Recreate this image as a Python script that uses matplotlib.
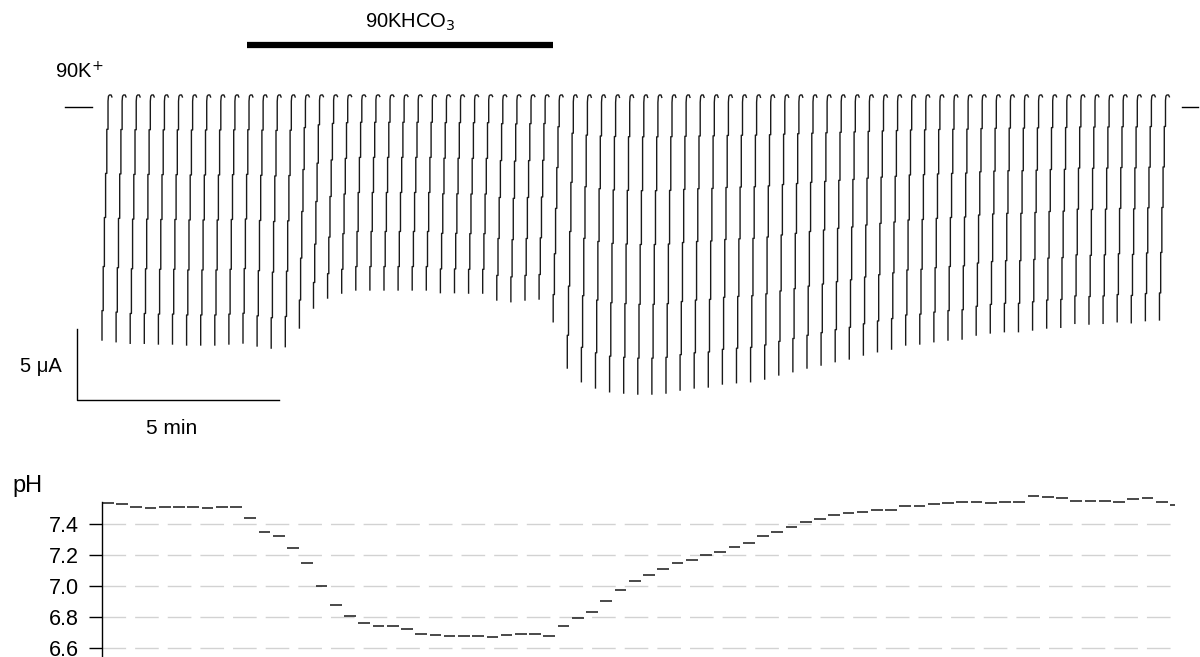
import matplotlib
matplotlib.use('Agg')
import matplotlib.pyplot as plt
import numpy as np

plt.rcParams['font.family'] = ['Liberation Sans', 'DejaVu Sans']

# peak inward current of each sweep (uA), one sweep every ~21 s
i_peak = [-16.50, -16.62, -16.73, -16.73, -16.78, -16.78, -16.85, -16.85,
          -16.85, -16.78, -16.71, -16.92, -17.07, -16.97, -15.65, -14.24,
          -13.53, -13.18, -12.96, -12.96, -12.96, -12.96, -12.96, -12.96,
          -13.15, -13.15, -13.18, -13.18, -13.67, -13.79, -13.67, -13.60,
          -15.21, -18.48, -19.45, -19.89, -20.16, -20.25, -20.32, -20.32,
          -20.25, -20.04, -19.89, -19.82, -19.61, -19.52, -19.45, -19.26,
          -18.97, -18.74, -18.48, -18.27, -18.03, -17.84, -17.56, -17.33,
          -17.14, -16.85, -16.78, -16.62, -16.50, -16.43, -16.15, -16.00,
          -15.91, -15.91, -15.79, -15.65, -15.60, -15.32, -15.37, -15.32,
          -15.21, -15.28, -15.13, -15.08]
i_top = 0.83
sweep_dt = 0.349  # min

# shape of one sweep: time offset (min) vs fraction of the excursion
ramp_dt = [0, 0, 0.030, 0.030, 0.059, 0.059, 0.089, 0.089, 0.119, 0.119,
           0.149, 0.149, 0.160, 0.185, 0.225, 0.245]
ramp_frac = [0, 0.12, 0.12, 0.30, 0.30, 0.50, 0.50, 0.68, 0.68, 0.86,
             0.86, 0.975, 0.995, 1.0, 1.0, 0.992]

# intracellular pH, one reading per ~21 s
ph = [7.534, 7.53, 7.512, 7.50, 7.51, 7.51, 7.51, 7.50, 7.51, 7.51,
      7.437, 7.35, 7.322, 7.247, 7.146, 7.00, 6.876, 6.805, 6.76, 6.74,
      6.74, 6.72, 6.69, 6.68, 6.675, 6.675, 6.675, 6.67, 6.68, 6.69,
      6.69, 6.675, 6.74, 6.79, 6.83, 6.90, 6.97, 7.03, 7.07, 7.11,
      7.15, 7.165, 7.20, 7.22, 7.25, 7.28, 7.32, 7.35, 7.38, 7.41,
      7.43, 7.46, 7.47, 7.48, 7.49, 7.49, 7.516, 7.516, 7.53, 7.534,
      7.545, 7.54, 7.535, 7.545, 7.54, 7.583, 7.577, 7.568, 7.55, 7.546,
      7.55, 7.545, 7.562, 7.565, 7.54, 7.525]
ph_dt = 0.3525
ph_ticks = [6.6, 6.8, 7.0, 7.2, 7.4]

app_start, app_end = 3.59, 11.16  # 90KHCO3 application (min)

fig = plt.figure(figsize=(12, 6.57), dpi=100)

# current trace
ax = fig.add_axes([0, 1 - 440 / 657, 1, 440 / 657])
ax.set_xlim(-102 / 40.4, 1098 / 40.4)
ax.set_ylim(-23.57, 7.546)
ax.axis('off')

ramp_dt = np.array(ramp_dt)
ramp_frac = np.array(ramp_frac)
for k, ip in enumerate(i_peak):
    t0 = k * sweep_dt
    ax.plot(t0 + ramp_dt, ip + ramp_frac * (i_top - ip),
            color='#1a1a1a', lw=1.0, solid_joinstyle='round')

# zero current markers
ax.plot([-0.916, -0.255], [0, 0], color='k', lw=1.0)
ax.plot([26.73, 27.13], [0, 0], color='k', lw=1.0)

# application bar
ax.plot([app_start, app_end], [4.36, 4.36], color='k', lw=4.5,
        solid_capstyle='butt')

# scale bars: 5 uA, 5 min
ax.plot([-0.619, -0.619, 4.381], [-15.72, -20.72, -20.72], color='k', lw=1.0)

fig.text(410 / 1200, 1 - 22 / 657, '90KHCO$_3$', ha='center', va='center',
         fontsize=14.5)
fig.text(55 / 1200, 1 - 72 / 657, '90K$^{+}$', ha='left', va='center',
         fontsize=14.5)
fig.text(62 / 1200, 1 - 366 / 657, '5 \u03bcA', ha='right', va='center',
         fontsize=14.5)
fig.text(172 / 1200, 1 - 428 / 657, '5 min', ha='center', va='center',
         fontsize=15)
fig.text(12 / 1200, 1 - 492 / 657, 'pH', ha='left', va='baseline',
         fontsize=17)

# pH trace
axp = fig.add_axes([102 / 1200, 0, 1073 / 1200, (657 - 493) / 657])
axp.set_xlim(0, 1073 / 40.4)
axp.set_ylim(6.54, 7.6)
for s in ['top', 'right', 'bottom']:
    axp.spines[s].set_visible(False)
axp.spines['left'].set_bounds(6.54, 7.542)
axp.spines['left'].set_linewidth(1.0)
axp.set_xticks([])
axp.set_yticks(ph_ticks)
axp.set_yticklabels(['%.1f' % v for v in ph_ticks], fontsize=15.5)
axp.tick_params(axis='y', length=9.5, width=1.0, pad=7)
for v in ph_ticks:
    axp.axhline(v, color='#d2d2d2', lw=1.0, linestyle=(0, (17, 6.5)),
                zorder=0)

t_ph = np.arange(len(ph)) * ph_dt
axp.hlines(ph, t_ph, t_ph + 0.29, colors='#2a2a2a', lw=1.2)

fig.savefig('out.png', dpi=100)
